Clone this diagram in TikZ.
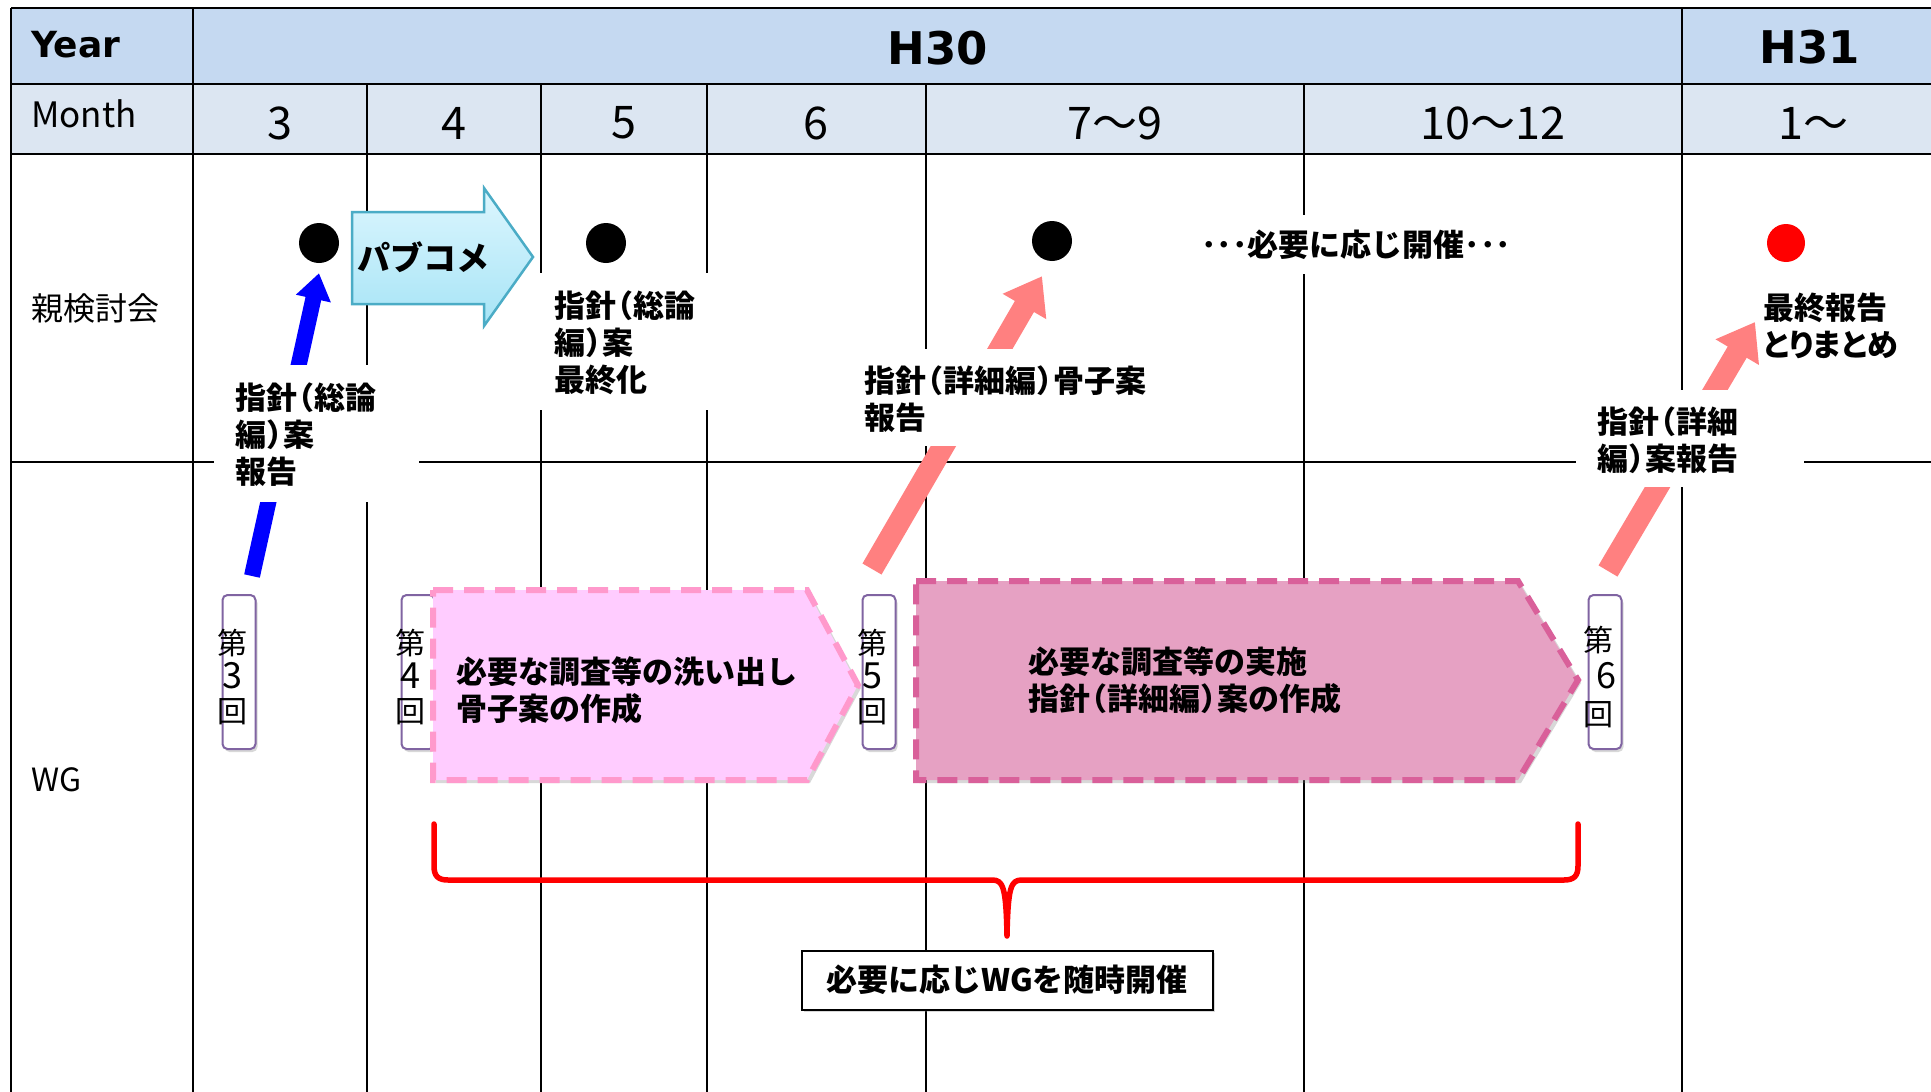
\documentclass[tikz,border=0pt]{standalone}
\usepackage{fontspec}
\setmainfont{Noto Sans CJK JP}
\newfontfamily\dvfont{DejaVu Sans}
\usetikzlibrary{arrows.meta,shadows,calc}
\definecolor{hdrA}{HTML}{C5D9F1}
\definecolor{hdrB}{HTML}{DCE6F2}
\definecolor{salmon}{HTML}{FF8080}
\definecolor{wgpurple}{HTML}{8064A2}
\definecolor{pkfillA}{HTML}{FFCCFF}
\definecolor{pkdrawA}{HTML}{FF99CC}
\definecolor{pkfillB}{HTML}{E6A1C3}
\definecolor{pkdrawB}{HTML}{D9609A}
\definecolor{cyanTop}{HTML}{DDF6FE}
\definecolor{cyanBot}{HTML}{A6E4F6}
\definecolor{cyanDraw}{HTML}{4BACC6}
\newcommand\jlp{\makebox[0.55em][r]{（}}
\newcommand\jrp{\makebox[0.55em][l]{）}}
\newcommand\wgdig[1]{{\fontsize{36}{34}\selectfont #1}}
\tikzset{
  gridline/.style={line width=2.5pt, black},
  hdrbold/.style={font=\dvfont\bfseries\fontsize{45}{50}\selectfont, inner sep=0pt},
  monthnum/.style={font=\fontsize{45}{50}\selectfont, inner sep=0pt},
  sidelbl/.style={font=\fontsize{32}{36}\selectfont, inner sep=0pt, anchor=west},
  lbl/.style={font=\bfseries\fontsize{31}{37}\selectfont, align=left, inner sep=0pt, anchor=west},
  blackdot/.style={circle, fill=black, minimum size=40pt, inner sep=0pt},
  wgbox/.style={draw=wgpurple, line width=2pt, fill=white, rounded corners=5pt,
    minimum width=33pt, minimum height=154pt, inner sep=0pt,
    drop shadow={opacity=0.3, shadow xshift=2pt, shadow yshift=-3pt}},
  wgnum/.style={font=\fontsize{30}{34}\selectfont, align=center, inner sep=0pt},
  pinkarrow/.style={line width=22pt, salmon, -{Triangle[width=48pt,length=35pt]}},
  bluearrow/.style={line width=16pt, blue, -{Triangle[width=34pt,length=26pt]}},
  penta/.style={line width=6pt, dash pattern=on 20pt off 11pt,
    drop shadow={opacity=0.3, shadow xshift=3pt, shadow yshift=-3pt}},
  redbrace/.style={red, line width=5.5pt, line join=round, line cap=round},
}
\begin{document}
\begin{tikzpicture}[x=1pt,y=-1pt]
\useasboundingbox (0,0) rectangle (1931,1092);
\fill[white] (0,0) rectangle (1931,1092);
% header fills
\fill[hdrA] (11,8) rectangle (1931,84);
\fill[hdrB] (11,84) rectangle (1931,154);
% grid
\draw[gridline] (11,8) -- (1931,8);
\draw[gridline] (11,84) -- (1931,84);
\draw[gridline] (11,154) -- (1931,154);
\draw[gridline] (11,462) -- (1931,462);
\draw[gridline] (11,8) -- (11,1092);
\foreach \x in {193,1682} \draw[gridline] (\x,8) -- (\x,1092);
\foreach \x in {367,541,707,926,1304} \draw[gridline] (\x,84) -- (\x,1092);
% header texts
\node[hdrbold, font=\dvfont\bfseries\fontsize{36}{40}\selectfont, anchor=west] (yr) at (31,45) {Year};
\node[hdrbold] (h30) at (938,48) {H30};
\node[hdrbold] (h31) at (1810,47) {H31};
\node[sidelbl, font=\fontsize{35}{40}\selectfont] (mon) at (31,114) {Month};
\node[monthnum] (m3) at (280,123) {3};
\node[monthnum] (m4) at (454,123) {4};
\node[monthnum] (m5) at (624,123) {5};
\node[monthnum] (m6) at (816,123) {6};
\node[monthnum] (m7) at (1115,123) {7〜9};
\node[monthnum] (m10) at (1493,123) {10〜12};
\node[monthnum] (m1) at (1813,123) {1〜};
% side labels
\node[sidelbl] (oya) at (31,308) {親検討会};
\node[sidelbl] (wg) at (31,780) {WG};
% dots
\node[blackdot] (d1) at (319,243) {};
\node[blackdot] (d2) at (606,243) {};
\node[blackdot] (d3) at (1052,241) {};
\node[blackdot, fill=red, minimum size=38pt] (d4) at (1786,243) {};
% WG boxes
\node[wgbox] (w3) at (239,672) {};
\node[wgbox] (w4) at (418,672) {};
\node[wgbox] (w5) at (879,672) {};
\node[wgbox] (w6) at (1605,672) {};
% right label (target of final arrow)
\node[lbl] (l5) at (1763,326) {最終報告\\\addfontfeatures{RawFeature=+palt}とりまとめ};
% arrow coordinates
\coordinate (ba0) at ($(w3.north)+(13,-18)$);
\coordinate (ba1) at ($(d1.south)+(0,10)$);
\coordinate (pa0) at ($(w5.north)+(-7,-25)$);
\coordinate (pa1) at ($(d3.south)+(-10,15)$);
\coordinate (pb0) at ($(w6.north)+(3,-23)$);
\coordinate (pb1) at ($(l5.west)+(-8,-4)$);
\draw[bluearrow] (ba0) -- (ba1);
\draw[pinkarrow] (pa0) -- (pa1);
\draw[pinkarrow] (pb0) -- (pb1);
% パブコメ arrow
\path[draw=cyanDraw, line width=2.5pt, top color=cyanTop, bottom color=cyanBot]
  (352,212) -- (484,212) -- (484,188) -- (533,257) -- (484,326) -- (484,304) -- (352,304) -- cycle;
\node[lbl, font=\bfseries\fontsize{33}{36}\selectfont] (pub) at (357,257) {パブコメ};
% white backgrounds for labels
\fill[white] (214,365) rectangle (419,502);
\fill[white] (530,273) rectangle (720,410);
\fill[white] (850,349) rectangle (1170,446);
\fill[white] (1195,215) rectangle (1510,274);
\fill[white] (1576,390) rectangle (1804,487);
% labels
\node[lbl] (l1) at (235,435) {指針\jlp{}総論\\編\jrp{}案\\報告};
\node[lbl] (l2) at (554,343) {指針\jlp{}総論\\編\jrp{}案\\最終化};
\node[lbl] (l3) at (864,399) {指針\jlp{}詳細編\jrp{}骨子案\\報告};
\node[lbl] (l4) at (1201,245) {･･･必要に応じ開催･･･};
\node[lbl] (l6) at (1597,440) {指針\jlp{}詳細\\編\jrp{}案報告};
% pentagons
\path[penta, fill=pkfillA, draw=pkdrawA]
  (433,590) -- (807,590) -- (858,685) -- (807,780) -- (433,780) -- cycle;
\path[penta, fill=pkfillB, draw=pkdrawB]
  (916,581) -- (1518,581) -- (1578,680) -- (1518,780) -- (916,780) -- cycle;
\node[lbl] (t1) at (456,690) {必要な調査等の洗い出し\\骨子案の作成};
\node[lbl] (t2) at (1028,680) {必要な調査等の実施\\指針\jlp{}詳細編\jrp{}案の作成};
% WG numbers (on top)
\node[wgnum] (w3t) at (232,677) {第\\\wgdig{3}\\回};
\node[wgnum] (w4t) at (410,677) {第\\\wgdig{4}\\回};
\node[wgnum] (w5t) at (872,677) {第\\\wgdig{5}\\回};
\node[wgnum, font=\fontsize{30}{37}\selectfont] (w6t) at (1598,677) {第\\\hspace*{16pt}\wgdig{6}\\回};
% brace
\draw[redbrace] (434,824) -- (434,866) .. controls (434,876) and (438,880) .. (448,880)
  -- (992,880) .. controls (1003,880) and (1006,886) .. (1007,936)
  .. controls (1008,886) and (1011,880) .. (1022,880)
  -- (1564,880) .. controls (1574,880) and (1578,876) .. (1578,866) -- (1578,824);
\node[draw=black, line width=2pt, fill=white, minimum width=411pt, minimum height=59pt,
  drop shadow={opacity=0.3, shadow xshift=2pt, shadow yshift=-2pt},
  font=\bfseries\fontsize{31}{36}\selectfont] (note) at (1007,980) {必要に応じWGを随時開催};
\end{tikzpicture}
\end{document}
